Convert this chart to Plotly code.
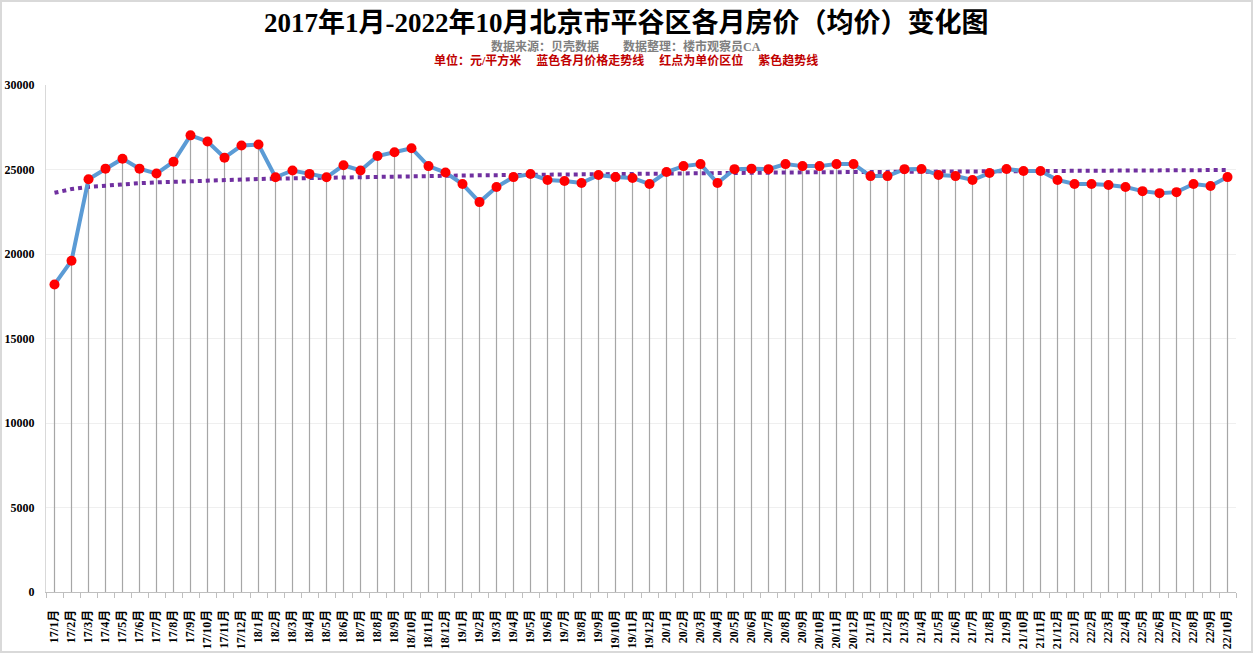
import numpy as np
import plotly.graph_objects as go

months = []
for yy in range(17, 23):
    for mm in range(1, 13):
        if yy == 22 and mm > 10:
            break
        months.append(f"{yy}/{mm}月")

prices = [
    18200, 19600, 24420, 25050, 25640, 25050, 24760, 25460, 27020, 26660, 25700, 26420,
    26480, 24540, 24940, 24740, 24540, 25250, 24940, 25800, 26020, 26260, 25200, 24820,
    24140, 23070, 23960, 24550, 24730, 24380, 24320, 24200, 24670, 24550, 24500, 24140,
    24850, 25200, 25320, 24200, 25020, 25050, 25020, 25320, 25200, 25200, 25320, 25320,
    24610, 24610, 25020, 25030, 24670, 24610, 24380, 24790, 25030, 24910, 24910, 24380,
    24140, 24140, 24080, 23960, 23720, 23600, 23660, 24140, 24020, 24550,
]

y_ticks = [0, 5000, 10000, 15000, 20000, 25000, 30000]

# logarithmic trend line (least squares on ln(x))
xi = np.arange(1, len(prices) + 1)
b, a = np.polyfit(np.log(xi), np.array(prices, dtype=float), 1)
trend = a + b * np.log(xi)

W, H = 1253, 653
L, R, T, B = 46, 17, 85, 61
pw, ph = W - L - R, H - T - B

fig = go.Figure()

# drop lines from each point to the axis
fig.add_trace(go.Scatter(
    x=months, y=prices, mode="markers", marker=dict(size=0.1, color="rgba(0,0,0,0)"),
    error_y=dict(type="data", symmetric=False, array=[0] * len(prices), arrayminus=prices,
                 color="#a6a6a6", thickness=1.2, width=0),
    hoverinfo="skip", showlegend=False,
))

fig.add_trace(go.Scatter(
    x=months, y=trend, mode="lines",
    line=dict(color="#7030a0", width=4, dash="dot"),
    showlegend=False,
))

fig.add_trace(go.Scatter(
    x=months, y=prices, mode="lines+markers",
    line=dict(color="#5b9bd5", width=4),
    marker=dict(color="#ff0000", size=10, line=dict(width=0)),
    showlegend=False,
))

serif = "Liberation Serif, Times New Roman, Noto Sans CJK SC, serif"

fig.update_layout(
    width=W, height=H,
    margin=dict(l=L, r=R, t=T, b=B, autoexpand=False),
    paper_bgcolor="white", plot_bgcolor="white",
    xaxis=dict(
        type="category", range=[-0.5, len(months) - 0.5], automargin=False,
        tickangle=-90, tickfont=dict(family=serif, size=12, color="#000000", weight="bold"),
        showgrid=False, showline=True, linecolor="#bfbfbf", linewidth=1,
        ticks="outside", tickson="boundaries", ticklen=5, tickcolor="#bfbfbf",
        zeroline=False, ticklabelstandoff=12,
    ),
    yaxis=dict(
        range=[0, 30000], tickvals=y_ticks, ticktext=[str(v) for v in y_ticks],
        automargin=False,
        tickfont=dict(family=serif, size=12, color="#000000", weight="bold"),
        showgrid=True, gridcolor="#efefef", gridwidth=1,
        showline=True, linecolor="#d9d9d9", linewidth=1,
        zeroline=False, ticks="", ticklabelstandoff=8,
    ),
    annotations=[
        dict(text="2017年1月-2022年10月北京市平谷区各月房价（均价）变化图",
             x=626 / W, y=1 - 23 / H, xref="paper", yref="paper", showarrow=False,
             xanchor="center", yanchor="middle",
             font=dict(family=serif, size=27, color="#000000", weight="bold")),
        dict(text="数据来源：贝壳数据　　数据整理：楼市观察员CA",
             x=626 / W, y=1 - 46 / H, xref="paper", yref="paper", showarrow=False,
             xanchor="center", yanchor="middle",
             font=dict(family=serif, size=12, color="#7f7f7f", weight="bold")),
        dict(text="单位：元/平方米　 蓝色各月价格走势线　 红点为单价区位　 紫色趋势线",
             x=626 / W, y=1 - 61 / H, xref="paper", yref="paper", showarrow=False,
             xanchor="center", yanchor="middle",
             font=dict(family=serif, size=12, color="#c00000", weight="bold")),
    ],
)

# convert annotation positions from page px to plot-paper coords
for ann in fig.layout.annotations:
    px = ann.x * W
    py = (1 - ann.y) * H
    ann.x = (px - L) / pw
    ann.y = (H - B - py) / ph

# outer frame
fig.add_shape(type="rect", xref="paper", yref="paper",
              x0=(1 - L) / pw, x1=(W - 1 - L) / pw,
              y0=(H - B - (H - 1)) / ph, y1=(H - B - 1) / ph,
              line=dict(color="#d9d9d9", width=2), layer="below")

fig.write_html("out.html")
